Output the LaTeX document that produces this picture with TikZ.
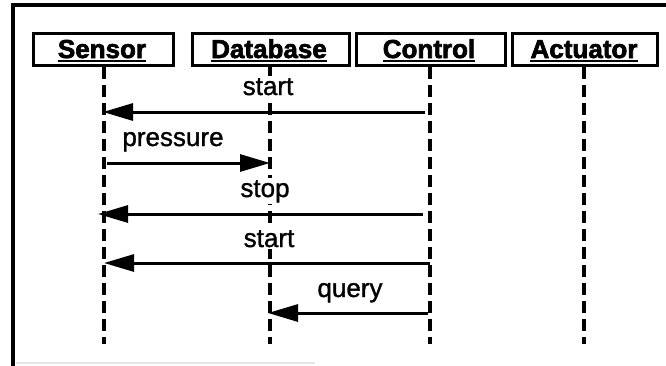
\documentclass[tikz,border=0pt]{standalone}
\usepackage{fontspec}
\setmainfont{Liberation Sans}
\newfontfamily\heavyfont[FakeBold=2.5]{Liberation Sans Bold}
\newfontfamily\labelfont[FakeBold=1.2]{Liberation Sans}
\usetikzlibrary{arrows.meta}
\tikzset{
  objbox/.style={draw, line width=3pt, minimum width=#1, minimum height=32pt, inner sep=0pt},
  objname/.style={font=\fontsize{26}{30}\heavyfont, inner sep=0pt, anchor=base},
  uline/.style={line width=2.6pt},
  lifeline/.style={line width=3.2pt, dash pattern=on 12pt off 6pt},
  msg/.style={line width=3pt, -{Triangle[length=30pt,width=17pt]}},
  msglabel/.style={font=\fontsize{26}{30}\labelfont, fill=white, inner sep=2pt, anchor=base},
  frame/.style={line width=3.2pt}
}
\begin{document}
\begin{tikzpicture}[x=1pt,y=-1pt]
\useasboundingbox (0,0) rectangle (666,365);

% outer frame (top and left edges)
\coordinate (fTR) at (666,5);
\coordinate (fTL) at (13,5);
\coordinate (fBL) at (13,366);
\draw[frame] (fTR) -- (fTL) -- (fBL);
\coordinate (gL) at (16,363);
\coordinate (gR) at (315,363);
\draw[gray!20, line width=1.2pt] (gL) -- (gR);

% object boxes
\node[objbox=140pt] (sen) at (103,49) {};
\node[objbox=157pt] (db)  at (270.5,49) {};
\node[objbox=149pt] (ctl) at (430.5,49) {};
\node[objbox=145pt] (act) at (584.5,49) {};

% object names, underlined
\node[objname] (tsen) at (102,58) {Sensor};
\node[objname] (tdb)  at (269,58) {Database};
\node[objname] (tctl) at (429,58) {Control};
\node[objname] (tact) at (584,58) {Actuator};
\foreach \t in {tsen,tdb,tctl,tact}
  \draw[uline] ([yshift=-3pt]\t.base west) -- ([yshift=-3pt]\t.base east);

% lifelines
\coordinate (senE) at (104,344);
\coordinate (dbE)  at (270,344);
\coordinate (ctlE) at (430,344);
\coordinate (actE) at (584,344);
\draw[lifeline] (sen.south -| senE) -- (senE);
\draw[lifeline] (db.south -| dbE) -- (dbE);
\draw[lifeline] (ctl.south -| ctlE) -- (ctlE);
\draw[lifeline] (act.south -| actE) -- (actE);

% message end points
\coordinate (m1a) at (425,112);  \coordinate (m1b) at (103,112);
\coordinate (m2a) at (107,163);  \coordinate (m2b) at (270,163);
\coordinate (m3a) at (423,214);  \coordinate (m3b) at (98,214);
\coordinate (m4a) at (430,263);  \coordinate (m4b) at (104,263);
\coordinate (m5a) at (428,313);  \coordinate (m5b) at (268,313);

% messages
\draw[msg] (m1a) -- (m1b);
\draw[msg] (m2a) -- (m2b);
\draw[msg] (m3a) -- (m3b);
\draw[msg] (m4a) -- (m4b);
\draw[msg] (m5a) -- (m5b);

% message labels (white ground hides the lifeline behind them)
\node[msglabel] (l1) at (268,95)  {start};
\node[msglabel] (l2) at (173,146) {pressure};
\node[msglabel] (l3) at (265,197) {stop};
\node[msglabel] (l4) at (269,247) {start};
\node[msglabel] (l5) at (350,297) {query};
\end{tikzpicture}
\end{document}
